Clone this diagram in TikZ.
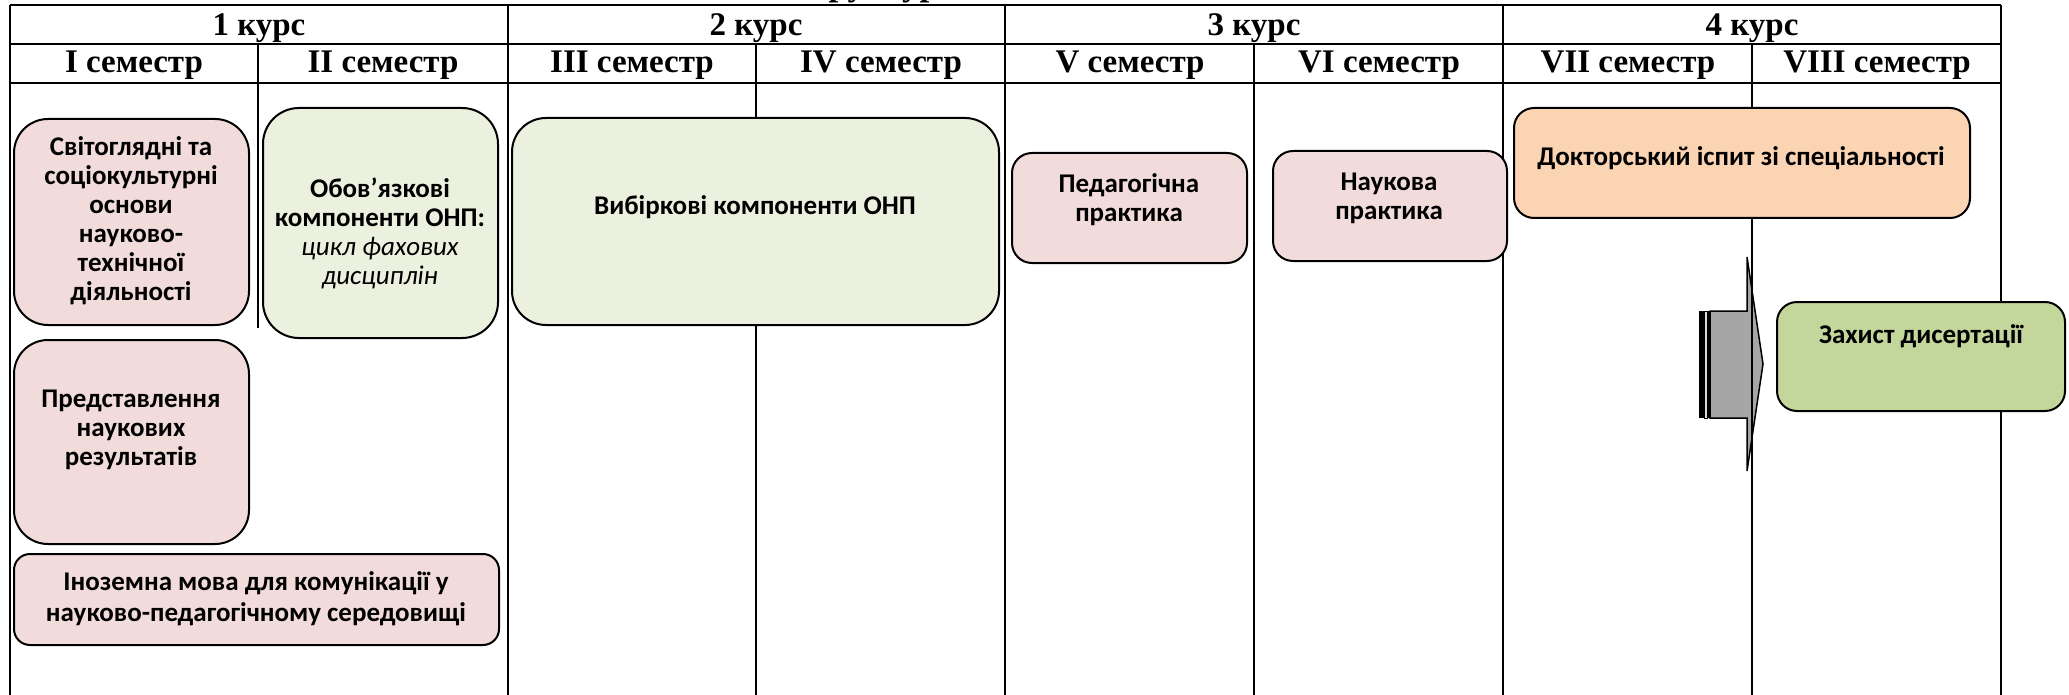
\documentclass[tikz,border=0pt]{standalone}
\usepackage{fontspec}
\setmainfont{Liberation Serif}
\newfontfamily\boxfont{Carlito}
\definecolor{pinkbox}{HTML}{F2DCDB}
\definecolor{greenbox}{HTML}{EBF1DE}
\definecolor{peachbox}{HTML}{FBD4B4}
\definecolor{olivebox}{HTML}{C3D69B}
\definecolor{arrowgray}{HTML}{A6A6A6}
\begin{document}
\begin{tikzpicture}[x=1pt,y=-1pt,
  tline/.style={line width=2.2pt},
  hdr/.style={font=\fontsize{33}{36}\selectfont\bfseries, inner sep=0, anchor=base},
  rbox/.style={draw, line width=2pt, rounded corners=#1, inner sep=0},
  txt/.style={font=\boxfont\fontsize{27}{29}\selectfont\bfseries, align=center, inner sep=0},
]
\useasboundingbox (0,0) rectangle (2069,695);
\fill[white] (0,0) rectangle (2069,695);

% clipped title
\begin{scope}
\clip (0,0) rectangle (2069,695);
\node[font=\fontsize{35}{38}\selectfont\bfseries, inner sep=0, anchor=base west] (title) at (786,-4) {Структура};
\end{scope}

% arrow (under the grid line)
\fill[black] (1699,311) rectangle (1704,418);
\draw[line width=1pt, fill=gray!30] (1704,311) rectangle (1707,418);
\fill[black] (1707,311) rectangle (1710,418);
\draw[line width=1.5pt, fill=arrowgray, line join=miter]
  (1710,311) -- (1747,311) -- (1747,257) -- (1763,364) -- (1747,471) -- (1747,418) -- (1710,418) -- cycle;

% grid
\draw[line width=2.6pt] (10,5) -- (2001,5);
\draw[tline] (10,44) -- (2001,44);
\draw[line width=2.8pt] (10,83) -- (2001,83);
\foreach \x in {10,508,1005,1503,2001} \draw[tline] (\x,5) -- (\x,695);
\draw[tline] (258,44) -- (258,328);
\foreach \x in {756,1254,1752} \draw[tline] (\x,44) -- (\x,695);

% headers
\node[hdr] (c1) at (259,36) {1 курс};
\node[hdr] (c2) at (756,36) {2 курс};
\node[hdr] (c3) at (1254,36) {3 курс};
\node[hdr] (c4) at (1752,36) {4 курс};
\node[hdr] (s1) at (134,73) {I семестр};
\node[hdr] (s2) at (383,73) {II семестр};
\node[hdr] (s3) at (632,73) {III семестр};
\node[hdr] (s4) at (881,73) {IV семестр};
\node[hdr] (s5) at (1130,73) {V семестр};
\node[hdr] (s6) at (1379,73) {VI семестр};
\node[hdr] (s7) at (1628,73) {VII семестр};
\node[hdr] (s8) at (1877,73) {VIII семестр};

% boxes
\node[rbox=34pt, fill=pinkbox, minimum width=235pt, minimum height=206pt] (sv) at (131.5,222) {};
\node[rbox=36pt, fill=greenbox, minimum width=235pt, minimum height=230pt] (ob) at (380.5,223) {};
\node[rbox=34pt, fill=pinkbox, minimum width=235pt, minimum height=204pt] (pr) at (131.5,442) {};
\node[rbox=16pt, fill=pinkbox, minimum width=485pt, minimum height=91pt] (in) at (256.5,599.5) {};
\node[rbox=34pt, fill=greenbox, minimum width=487pt, minimum height=207pt] (vy) at (755.5,221.5) {};
\node[rbox=20pt, fill=pinkbox, minimum width=235pt, minimum height=110pt] (pe) at (1129.5,208) {};
\node[rbox=20pt, fill=pinkbox, minimum width=234pt, minimum height=110pt] (na) at (1390,206) {};
\node[rbox=20pt, fill=peachbox, minimum width=456pt, minimum height=110pt] (dok) at (1742,163) {};
\node[rbox=20pt, fill=olivebox, minimum width=288pt, minimum height=109pt] (zah) at (1921,356.5) {};

% texts
\node[txt] (sv-t) at (131,221) {Світоглядні та\\соціокультурні\\основи\\науково-\\технічної\\діяльності};
\node[txt] (ob-t) at (380,233) {Обов’язкові\\компоненти ОНП:\\{\mdseries\itshape цикл фахових}\\{\mdseries\itshape дисциплін}};
\node[txt] (pr-t) at (131,430) {Представлення\\наукових\\результатів};
\node[txt, font=\boxfont\fontsize{27}{31}\selectfont\bfseries] (in-t) at (256,599) {Іноземна мова для комунікації у\\науково-педагогічному середовищі};
\node[txt] (vy-t) at (755,207) {Вибіркові компоненти ОНП};
\node[txt] (pe-t) at (1129,200) {Педагогічна\\практика};
\node[txt] (na-t) at (1389,198) {Наукова\\практика};
\node[txt] (dok-t) at (1741,158) {Докторський іспит зі спеціальності};
\node[txt] (zah-t) at (1921,336) {Захист дисертації};
\end{tikzpicture}
\end{document}
